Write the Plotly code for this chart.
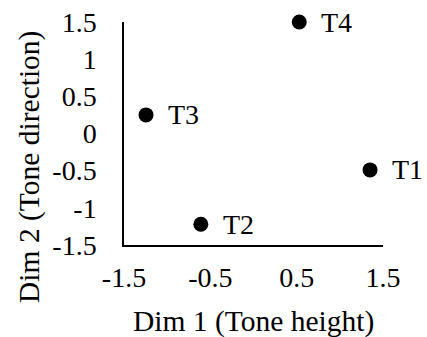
import plotly.graph_objects as go

labels = ["T1", "T2", "T3", "T4"]
dim1 = [1.35, -0.61, -1.245, 0.53]
dim2 = [-0.49, -1.22, 0.25, 1.5]
x_ticks = [-1.5, -0.5, 0.5, 1.5]
x_ticktext = ["-1.5", "-0.5", "0.5", "1.5"]
y_ticks = [-1.5, -1, -0.5, 0, 0.5, 1, 1.5]
y_ticktext = ["-1.5", "-1", "-0.5", "0", "0.5", "1", "1.5"]

FONT = "Liberation Serif, Times New Roman, serif"
FS = 28
FST = 29.5

fig = go.Figure()
fig.add_trace(go.Scatter(
    x=dim1, y=dim2, mode="markers",
    marker=dict(color="black", size=15),
    cliponaxis=False, showlegend=False,
))
for lab, xv, yv in zip(labels, dim1, dim2):
    fig.add_annotation(x=xv, y=yv, text=lab, showarrow=False,
                       xanchor="left", yanchor="middle", xshift=20,
                       font=dict(family=FONT, size=FS, color="black"))

fig.add_annotation(xref="paper", yref="paper", x=0.5, y=-0.345,
                   text="Dim 1 (Tone height)", showarrow=False,
                   xanchor="center", yanchor="middle",
                   font=dict(family=FONT, size=FST, color="black"))
fig.add_annotation(xref="paper", yref="paper", x=-0.363, y=0.35,
                   text="Dim 2 (Tone direction)", showarrow=False, textangle=-90,
                   xanchor="center", yanchor="middle",
                   font=dict(family=FONT, size=FST, color="black"))

fig.update_xaxes(range=[-1.5, 1.5], tickvals=x_ticks, ticktext=x_ticktext,
                 showgrid=False, zeroline=False, showline=True,
                 linecolor="black", linewidth=1.5, ticks="",
                 ticklabelstandoff=7, automargin=False,
                 tickfont=dict(family=FONT, size=FS, color="black"))
fig.update_yaxes(range=[-1.5, 1.5], tickvals=y_ticks, ticktext=y_ticktext,
                 showgrid=False, zeroline=False, showline=True,
                 linecolor="black", linewidth=1.5, ticks="",
                 ticklabelstandoff=20, automargin=False,
                 tickfont=dict(family=FONT, size=FS, color="black"))

fig.update_layout(width=427, height=337,
                  margin=dict(l=124, r=44, t=22, b=92),
                  plot_bgcolor="white", paper_bgcolor="white")

fig.write_html("out.html", config={"displayModeBar": False},
               post_script="document.body.style.margin='0';document.body.style.overflow='hidden';")
